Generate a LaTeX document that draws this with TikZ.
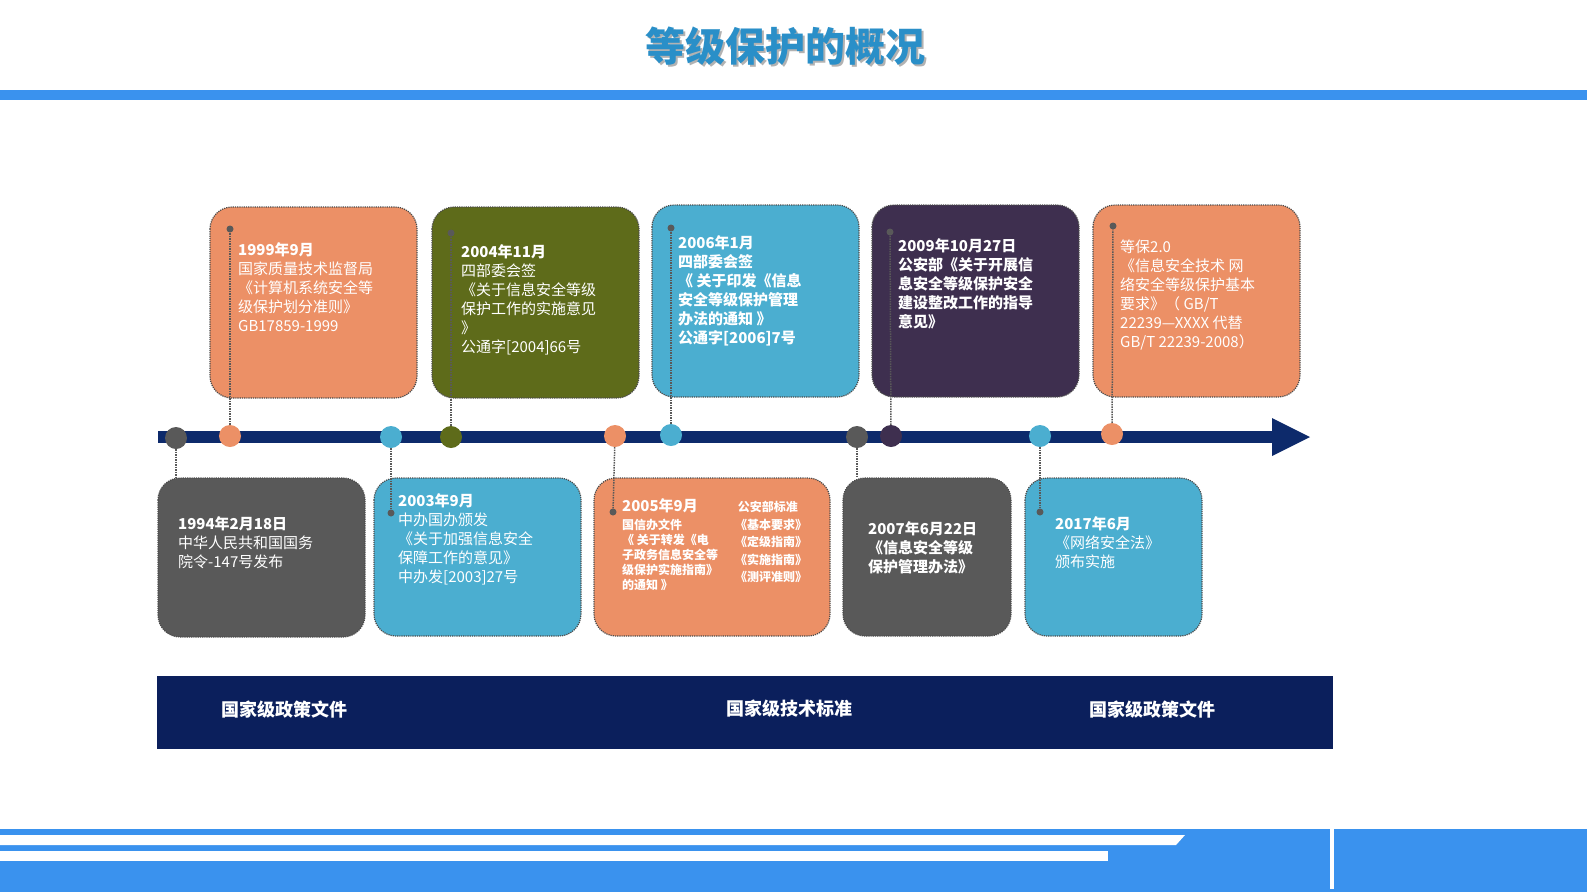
\documentclass[tikz,border=0pt]{standalone}
\usepackage{fontspec}
\setmainfont{Noto Sans CJK SC}
\newfontfamily\cjkb[BoldFont={Noto Sans CJK SC Bold}]{Noto Sans CJK SC}
\definecolor{orng}{HTML}{EC9066}
\definecolor{olive}{HTML}{5E6B1A}
\definecolor{lblue}{HTML}{4BAED0}
\definecolor{purp}{HTML}{3E2F4F}
\definecolor{dgray}{HTML}{595959}
\definecolor{navy}{HTML}{0D2A6B}
\definecolor{band}{HTML}{0B1F5C}
\definecolor{brand}{HTML}{3A92EE}
\definecolor{ttl}{HTML}{2A8FC8}
\tikzset{
 card/.style={draw=black!70, densely dotted, line width=1.2pt, rounded corners=22pt},
 txt/.style={anchor=north west, align=left, text=white, font=\fontsize{15}{19}\selectfont, inner sep=0pt},
 dot/.style={circle, fill=#1, minimum size=22pt, inner sep=0pt},
 pin/.style={circle, fill=black!65, minimum size=7pt, inner sep=0pt},
 conn/.style={draw=black!65, densely dotted, line width=1.5pt},
 bandtxt/.style={text=white, font=\fontsize{18}{20}\selectfont\bfseries}
}
\begin{document}
\begin{tikzpicture}[x=1pt,y=-1pt]
\useasboundingbox (0,0) rectangle (1587,892);
% title
\node[text=black!30, font=\fontsize{40}{44}\selectfont\bfseries] at (787,48) {等级保护的概况};
\node (title) [text=ttl, font=\fontsize{40}{44}\selectfont\bfseries] at (785,46) {等级保护的概况};
\fill[brand] (0,90) rectangle (1587,100);
% footer
\fill[brand] (0,829) rectangle (1587,892);
\fill[white] (0,835) -- (1185,835) -- (1176,845) -- (0,845) -- cycle;
\fill[white] (0,851) rectangle (1108,861);
\fill[white] (1330,829) rectangle (1334,889);
% cards top
\filldraw[card, fill=orng] (210,207) rectangle (417,398);
\filldraw[card, fill=olive] (432,207) rectangle (639,398);
\filldraw[card, fill=lblue] (652,205) rectangle (859,397);
\filldraw[card, fill=purp] (872,205) rectangle (1079,397);
\filldraw[card, fill=orng] (1093,205) rectangle (1300,397);
% cards bottom
\filldraw[card, fill=dgray] (158,478) rectangle (365,637);
\filldraw[card, fill=lblue] (374,478) rectangle (581,636);
\filldraw[card, fill=orng] (594,478) rectangle (830,636);
\filldraw[card, fill=dgray] (843,478) rectangle (1011,636);
\filldraw[card, fill=lblue] (1025,478) rectangle (1202,636);
% timeline
\fill[navy] (158,431) rectangle (1275,443);
\fill[navy] (1272,418) -- (1310,437) -- (1272,456) -- cycle;
\node (c1) [dot=dgray] at (176,438) {};
\node (c2) [dot=orng] at (230,436) {};
\node (c3) [dot=lblue] at (391,437) {};
\node (c4) [dot=olive] at (451,437) {};
\node (c5) [dot=orng] at (615,436) {};
\node (c6) [dot=lblue] at (671,435) {};
\node (c7) [dot=dgray] at (857,437) {};
\node (c8) [dot=purp] at (891,436) {};
\node (c9) [dot=lblue] at (1040,436) {};
\node (c10) [dot=orng] at (1112,434) {};
% pins
\node (p2) [pin] at (230,229) {};
\node (p4) [pin] at (451,233) {};
\node (p6) [pin] at (671,228) {};
\node (p8) [pin] at (890,232) {};
\node (p10) [pin] at (1113,226) {};
\node (p3) [pin] at (391,513) {};
\node (p5) [pin] at (613,512) {};
\node (p9) [pin] at (1040,512) {};
\coordinate (e1) at (176,478);
\coordinate (e7) at (857,478);
\draw[conn] (c2) -- (p2); \draw[conn] (c4) -- (p4); \draw[conn] (c6) -- (p6);
\draw[conn] (c8) -- (p8); \draw[conn] (c10) -- (p10);
\draw[conn] (c3) -- (p3); \draw[conn] (c5) -- (p5); \draw[conn] (c9) -- (p9);
\draw[conn] (c1) -- (e1); \draw[conn] (c7) -- (e7);
% texts
\node (tA) [txt] at (238,242) {\textbf{1999年9月}\\国家质量技术监督局\\《计算机系统安全等\\级保护划分准则》\\GB17859-1999};
\node (tB) [txt] at (461,244) {\textbf{2004年11月}\\四部委会签\\《关于信息安全等级\\保护工作的实施意见\\》\\公通字[2004]66号};
\node (tC) [txt, font=\fontsize{15}{19}\selectfont\bfseries] at (678,235) {2006年1月\\四部委会签\\《 关于印发《信息\\安全等级保护管理\\办法的通知 》\\公通字[2006]7号};
\node (tD) [txt, font=\fontsize{15}{19}\selectfont\bfseries] at (898,238) {2009年10月27日\\公安部《关于开展信\\息安全等级保护安全\\建设整改工作的指导\\意见》};
\node (tE) [txt] at (1120,240) {等保2.0\\《信息安全技术 网\\络安全等级保护基本\\要求》（ GB/T\\22239—XXXX 代替\\GB/T 22239-2008）};
\node (tF) [txt] at (178,516) {\textbf{1994年2月18日}\\中华人民共和国国务\\院令-147号发布};
\node (tG) [txt] at (398,493) {\textbf{2003年9月}\\中办国办颁发\\《关于加强信息安全\\保障工作的意见》\\中办发[2003]27号};
\node (tH1) [txt, font=\fontsize{15}{17}\selectfont\bfseries] at (622,498) {2005年9月};
\node (tH2) [txt, font=\fontsize{12}{15}\selectfont\bfseries] at (622,519) {国信办文件\\《 关于转发《电\\子政务信息安全等\\级保护实施指南》\\的通知 》};
\node (tH3) [txt, font=\fontsize{12}{17.5}\selectfont\bfseries] at (735,501) {\ 公安部标准\\《基本要求》\\《定级指南》\\《实施指南》\\《测评准则》};
\node (tI) [txt, font=\fontsize{15}{19}\selectfont\bfseries] at (868,521) {2007年6月22日\\《信息安全等级\\保护管理办法》};
\node (tJ) [txt] at (1055,516) {\textbf{2017年6月}\\《网络安全法》\\颁布实施};
% bottom band
\fill[band] (157,676) rectangle (1333,749);
\node (b1) [bandtxt] at (284,710) {国家级政策文件};
\node (b2) [bandtxt] at (789,709) {国家级技术标准};
\node (b3) [bandtxt] at (1152,710) {国家级政策文件};
\end{tikzpicture}
\end{document}
